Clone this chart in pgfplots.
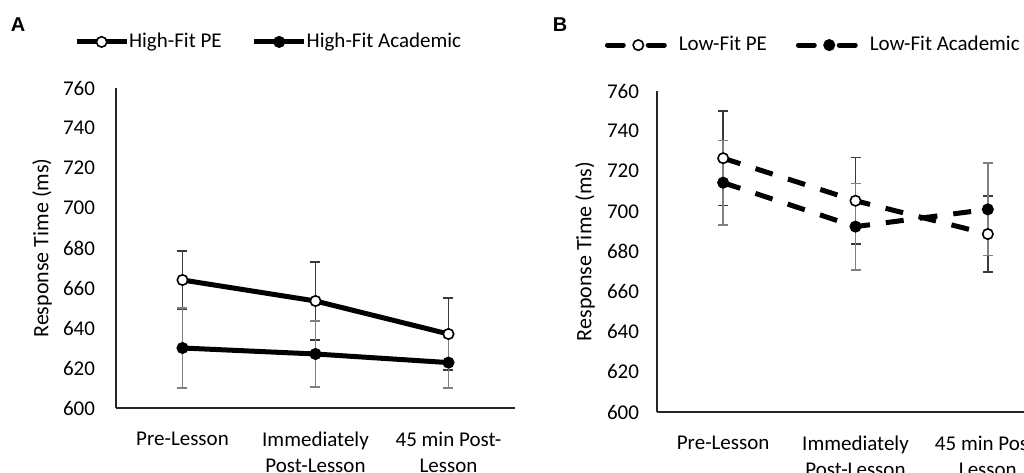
\documentclass[border=0pt]{standalone}
\usepackage{pgfplots}
\pgfplotsset{compat=1.18}
\usepackage{fontspec}
\setmainfont{Carlito}
\newfontfamily\arial{Liberation Sans}

\definecolor{pebar}{HTML}{3A3A3A}
\definecolor{acbar}{HTML}{808080}

\pgfplotsset{
  panel/.style={
    scale only axis,
    xmin=-0.5, xmax=2.5, ymin=600, ymax=760,
    ytick={600,620,...,760},
    xtick={0,1,2},
    xticklabels={Pre-Lesson, Immediately\\Post-Lesson, 45 min Post-\\Lesson},
    axis x line*=bottom, axis y line*=left,
    major tick length=0pt,
    axis line style={line width=0.75pt, black!85},
    tick label style={font=\fontsize{10.5}{13}\selectfont},
    /pgf/number format/assume math mode=true,
    xticklabel style={align=center, yshift=-8.5pt},
    ylabel={Response Time (ms)},
    label style={font=\fontsize{11}{13}\selectfont},
    legend style={draw=none, fill=none, inner sep=0pt, outer sep=0pt,
      legend columns=2, font=\fontsize{10.5}{13}\selectfont,
      nodes={inner sep=0pt}},
  },
  ebar/.style={forget plot, only marks, mark=none,
    error bars/.cd, y dir=both, y explicit,
    error bar style={line width=0.75pt, solid, color=#1},
    error mark options={rotate=90, mark size=2.5pt, line width=0.75pt, color=#1}},
  line/.style={black, line width=2.5pt, mark=*, mark size=2.6pt},
  open/.style={mark options={solid, fill=white, draw=black, line width=0.8pt}},
  full/.style={mark options={solid, fill=black, draw=black, line width=0.8pt}},
}

\begin{document}
\begin{tikzpicture}
\useasboundingbox (0,0) rectangle (512pt,236pt);
\clip (0,0) rectangle (512pt,236pt);

\node[font=\arial\bfseries\fontsize{10}{12}\selectfont] at (9pt,223.5pt) {A};
\node[font=\arial\bfseries\fontsize{10}{12}\selectfont] at (280pt,223.5pt) {B};

% Panel A
\begin{axis}[panel,
  at={(58pt,32pt)}, anchor=south west, width=199.5pt, height=160pt,
  yticklabel style={xshift=-7pt},
  ylabel style={at={(axis description cs:-0.185,0.5)}, anchor=center},
  legend style={at={(axis description cs:-0.105,1.144)}, anchor=west,
    /tikz/every even column/.append style={column sep=15pt}},
  legend image code/.code={
    \draw[#1, mark repeat=2, mark phase=2] plot coordinates {(0pt,0pt) (12.5pt,0pt) (25pt,0pt)};},
]
\addplot[ebar=pebar] coordinates {(0,664) +- (0,14.5) (1,653.5) +- (0,19.5) (2,637) +- (0,18)};
\addplot[ebar=acbar] coordinates {(0,630) +- (0,20) (1,627) +- (0,16.5) (2,622.7) +- (0,12.7)};
\addplot[line, open] coordinates {(0,664) (1,653.5) (2,637)};
\addlegendentry{High-Fit PE}
\addplot[line, full] coordinates {(0,630) (1,627) (2,622.7)};
\addlegendentry{High-Fit Academic}
\end{axis}

% Panel B
\begin{axis}[panel,
  at={(328.5pt,30pt)}, anchor=south west, width=198.5pt, height=160.5pt,
  yticklabel style={xshift=-5.5pt},
  ylabel style={at={(axis description cs:-0.181,0.5)}, anchor=center},
  legend style={at={(axis description cs:-0.131,1.143)}, anchor=west,
    /tikz/every even column/.append style={column sep=14.5pt}},
  legend image code/.code={
    \draw[#1, solid, mark=none, line cap=round] (0.6pt,0pt) -- (8.5pt,0pt) (21pt,0pt) -- (29pt,0pt);
    \draw[#1, solid] plot[only marks] coordinates {(16pt,0pt)};
    \path (35pt,0pt);},
]
\addplot[ebar=pebar] coordinates {(0,726.5) +- (0,23.5) (1,705.3) +- (0,21.5) (2,688.7) +- (0,19)};
\addplot[ebar=acbar] coordinates {(0,714.3) +- (0,21) (1,692.4) +- (0,21.5) (2,701) +- (0,23)};
\addplot[line, open, dash pattern=on 9pt off 8pt] coordinates {(0,726.5) (1,705.3) (2,688.7)};
\addlegendentry{Low-Fit PE}
\addplot[line, full, dash pattern=on 9pt off 8pt] coordinates {(0,714.3) (1,692.4) (2,701)};
\addlegendentry{Low-Fit Academic}
\end{axis}
\end{tikzpicture}
\end{document}
